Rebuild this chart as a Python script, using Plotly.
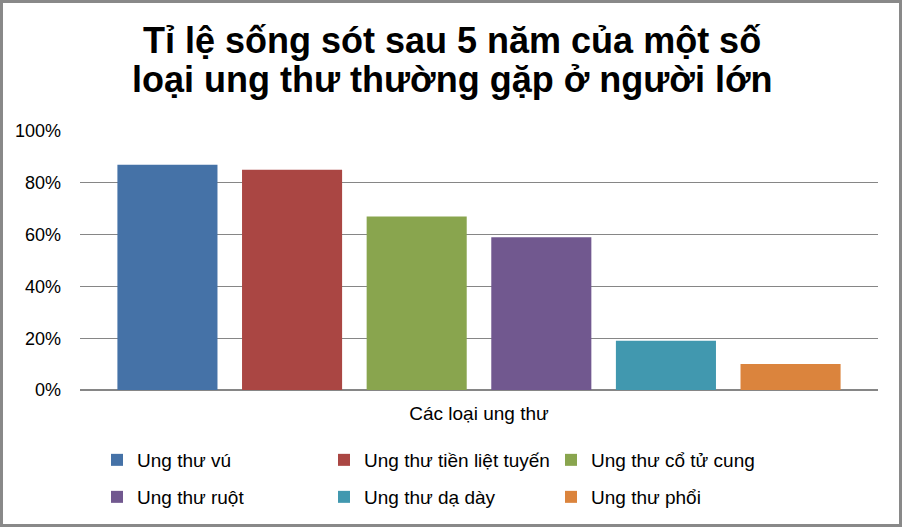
import plotly.graph_objects as go

# data
x_category = "Các loại ung thư"
cancer_types = [
    "Ung thư vú",
    "Ung thư tiền liệt tuyến",
    "Ung thư cổ tử cung",
    "Ung thư ruột",
    "Ung thư dạ dày",
    "Ung thư phổi",
]
survival = [0.87, 0.85, 0.67, 0.59, 0.19, 0.10]
colors = ["#4572A7", "#AA4643", "#89A54E", "#71588F", "#4198AF", "#DB843D"]
y_ticks = [0, 0.2, 0.4, 0.6, 0.8, 1.0]
title_lines = ["Tỉ lệ sống sót sau 5 năm của một số",
               "loại ung thư thường gặp ở người lớn"]

FONT = "Liberation Sans, Arial, sans-serif"
W, H = 902, 527
L, R, T, B = 80, 24, 131, 137
PW, PH = W - L - R, H - T - B


def px_x(x):  # pixel -> paper
    return (x - L) / PW


def px_y(y):
    return (H - B - y) / PH


fig = go.Figure()
for i, (name, val, col) in enumerate(zip(cancer_types, survival, colors)):
    fig.add_trace(go.Bar(
        x=[x_category],
        y=[val],
        name=name,
        marker=dict(color=col, line=dict(width=0)),
        legend="legend" if i < 3 else "legend2",
    ))

leg = dict(
    orientation="h", entrywidth=182, entrywidthmode="pixels",
    xref="container", x=97 / W, xanchor="left",
    yref="container", yanchor="middle",
    font=dict(family=FONT, size=19, color="black"),
    bgcolor="rgba(0,0,0,0)",
)

fig.update_layout(
    width=W, height=H,
    margin=dict(l=L, r=R, t=T, b=B, autoexpand=False),
    paper_bgcolor="white",
    plot_bgcolor="white",
    font=dict(family=FONT, color="black", size=18),
    barmode="group",
    bargap=0.063,
    bargroupgap=0.197,
    legend=dict(leg, y=1 - 460 / H),
    legend2=dict(leg, y=1 - 497 / H),
    showlegend=True,
)

for line, yc in zip(title_lines, [40, 80]):
    fig.add_annotation(
        text=line, showarrow=False,
        xref="paper", yref="paper", x=px_x(452), y=px_y(yc),
        xanchor="center", yanchor="middle",
        font=dict(family=FONT, size=36, color="black", weight="bold"),
    )

fig.update_yaxes(
    range=[0, 1.0001],
    tickvals=y_ticks,
    tickformat=".0%",
    showgrid=True, gridcolor="#868686", gridwidth=1,
    zeroline=True, zerolinecolor="#868686", zerolinewidth=1.5,
    showline=False, ticks="",
    ticklabelstandoff=18,
    tickfont=dict(family=FONT, size=18, color="black"),
)
fig.update_xaxes(
    showline=False, ticks="", showgrid=False,
    ticklabelstandoff=10,
    tickfont=dict(family=FONT, size=19, color="black"),
)

# chart area frame
fig.add_shape(
    type="rect", xref="paper", yref="paper",
    x0=px_x(1.5), x1=px_x(900.5),
    y0=px_y(525.5), y1=px_y(1.5),
    line=dict(color="#898989", width=3),
    fillcolor="rgba(0,0,0,0)",
    layer="below",
)

fig.write_html("out.html", config={"displayModeBar": False},
               post_script="document.body.style.margin='0';")
